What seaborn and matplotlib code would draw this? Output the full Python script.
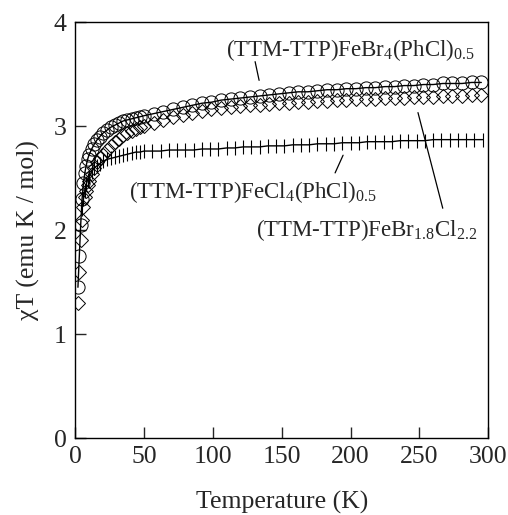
import numpy as np
import pandas as pd
import matplotlib
matplotlib.use('Agg')
import matplotlib.pyplot as plt
import seaborn as sns

# (TTM-TTP)FeBr4(PhCl)0.5 -- open circles
t_br4 = [2, 3, 4, 5, 6, 7, 8, 9, 10, 12, 14, 16, 18, 20, 23, 26, 29, 32, 35, 38, 41, 44, 47, 50,
         57, 64, 71, 78, 85, 92, 99, 106, 113, 120, 127, 134, 141, 148, 155, 162, 169, 176, 183,
         190, 197, 204, 211, 218, 225, 232, 239, 246, 253, 260, 267, 274, 281, 288, 295]
chi_br4 = [1.45, 1.75, 2.05, 2.3, 2.45, 2.55, 2.62, 2.68, 2.72, 2.78, 2.83, 2.87, 2.9, 2.93, 2.96,
           2.99, 3.01, 3.03, 3.05, 3.06, 3.07, 3.08, 3.09, 3.10,
           3.12, 3.14, 3.16, 3.18, 3.2, 3.22, 3.23, 3.25, 3.26, 3.27, 3.28, 3.29, 3.30, 3.31, 3.32,
           3.33, 3.33, 3.34, 3.35, 3.35, 3.36, 3.36, 3.37, 3.37, 3.38, 3.38, 3.39, 3.39, 3.4, 3.4,
           3.41, 3.41, 3.41, 3.42, 3.42]

# (TTM-TTP)FeBr1.8Cl2.2 -- open diamonds
t_brcl = [2, 3, 4, 5, 6, 7, 8, 9, 10, 12, 14, 16, 18, 20, 23, 26, 29, 32, 35, 38, 41, 44, 47, 50,
          57, 64, 71, 78, 85, 92, 99, 106, 113, 120, 127, 134, 141, 148, 155, 162, 169, 176, 183,
          190, 197, 204, 211, 218, 225, 232, 239, 246, 253, 260, 267, 274, 281, 288, 295]
chi_brcl = [1.3, 1.6, 1.9, 2.1, 2.22, 2.32, 2.38, 2.43, 2.47, 2.54, 2.6, 2.65, 2.69, 2.72, 2.77,
            2.81, 2.85, 2.88, 2.91, 2.93, 2.95, 2.97, 2.99, 3.0,
            3.03, 3.06, 3.09, 3.11, 3.13, 3.15, 3.16, 3.17, 3.18, 3.19, 3.2, 3.2, 3.21, 3.22, 3.22,
            3.23, 3.23, 3.24, 3.24, 3.25, 3.25, 3.26, 3.26, 3.26, 3.27, 3.27, 3.27, 3.28, 3.28, 3.28,
            3.29, 3.29, 3.29, 3.3, 3.3]

# (TTM-TTP)FeCl4(PhCl)0.5 -- crosses
t_cl4 = [5, 6, 7, 8, 9, 10, 12, 14, 16, 18, 20, 23, 26, 29, 32, 35, 38, 41, 44, 47, 50,
         56, 62, 68, 74, 80, 86, 92, 98, 104, 110, 116, 122, 128, 134, 140, 146, 152, 158, 164,
         170, 176, 182, 188, 194, 200, 206, 212, 218, 224, 230, 236, 242, 248, 254, 260, 266,
         272, 278, 284, 290, 296]
chi_cl4 = [2.2, 2.3, 2.38, 2.44, 2.48, 2.51, 2.56, 2.6, 2.62, 2.64, 2.66, 2.68, 2.69, 2.7, 2.71,
           2.72, 2.73, 2.74, 2.75, 2.75, 2.76,
           2.76, 2.76, 2.77, 2.77, 2.77, 2.77, 2.78, 2.78, 2.78, 2.79, 2.79, 2.8, 2.8, 2.8, 2.81,
           2.81, 2.81, 2.82, 2.82, 2.82, 2.83, 2.83, 2.83, 2.84, 2.84, 2.84, 2.85, 2.85, 2.85,
           2.85, 2.86, 2.86, 2.86, 2.86, 2.87, 2.87, 2.87, 2.87, 2.87, 2.87, 2.87]

x_ticks = [0, 50, 100, 150, 200, 250, 300]
y_ticks = [0, 1, 2, 3, 4]


def main():
    sns.set_style('ticks')
    plt.rcParams['font.family'] = ['Liberation Serif', 'DejaVu Serif']
    plt.rcParams['mathtext.default'] = 'regular'

    fig = plt.figure(figsize=(5.08, 5.15), dpi=100)
    ax = fig.add_axes([0.148, 0.1495, 0.813, 0.8075])

    df_br4 = pd.DataFrame({'T': t_br4, 'chi': chi_br4})
    df_brcl = pd.DataFrame({'T': t_brcl, 'chi': chi_brcl})
    df_cl4 = pd.DataFrame({'T': t_cl4, 'chi': chi_cl4})

    sns.lineplot(data=df_brcl, x='T', y='chi', ax=ax, color='black', linestyle='',
                 marker='D', markersize=7.5, markerfacecolor='none', markeredgecolor='black',
                 markeredgewidth=0.7, errorbar=None, sort=False)
    sns.lineplot(data=df_br4, x='T', y='chi', ax=ax, color='black', linewidth=1.0,
                 marker='o', markersize=9.5, markerfacecolor='none', markeredgecolor='black',
                 markeredgewidth=0.7, errorbar=None, sort=False)
    sns.lineplot(data=df_cl4, x='T', y='chi', ax=ax, color='black', linewidth=1.0,
                 marker='|', markersize=10, markeredgecolor='black', markeredgewidth=0.8,
                 errorbar=None, sort=False)

    ax.set_xlim(0, 300)
    ax.set_ylim(0, 4)
    ax.set_xticks(x_ticks)
    ax.set_yticks(y_ticks)
    ax.tick_params(direction='in', length=8, width=1, labelsize=18.5, pad=6)
    for s in ax.spines.values():
        s.set_linewidth(1.0)
        s.set_color('black')
    ax.set_xlabel('Temperature (K)', fontsize=18.5, labelpad=16)
    ax.set_ylabel('χT (emu K / mol)', fontsize=18.5, labelpad=10)

    fs = 16.5
    ax.text(200, 3.73, '(TTM-TTP)FeBr$_4$(PhCl)$_{0.5}$', fontsize=fs, ha='center', va='center')
    ax.plot([130.7, 133.6], [3.62, 3.44], color='black', lw=0.9)
    ax.text(129, 2.37, '(TTM-TTP)FeCl$_4$(PhCl)$_{0.5}$', fontsize=fs, ha='center', va='center')
    ax.plot([194.6, 188.8], [2.72, 2.55], color='black', lw=0.9)
    ax.text(212, 2.0, '(TTM-TTP)FeBr$_{1.8}$Cl$_{2.2}$', fontsize=fs, ha='center', va='center')
    ax.plot([249, 267], [3.13, 2.21], color='black', lw=0.9)

    fig.savefig('out.png', dpi=100)


if __name__ == '__main__':
    main()
